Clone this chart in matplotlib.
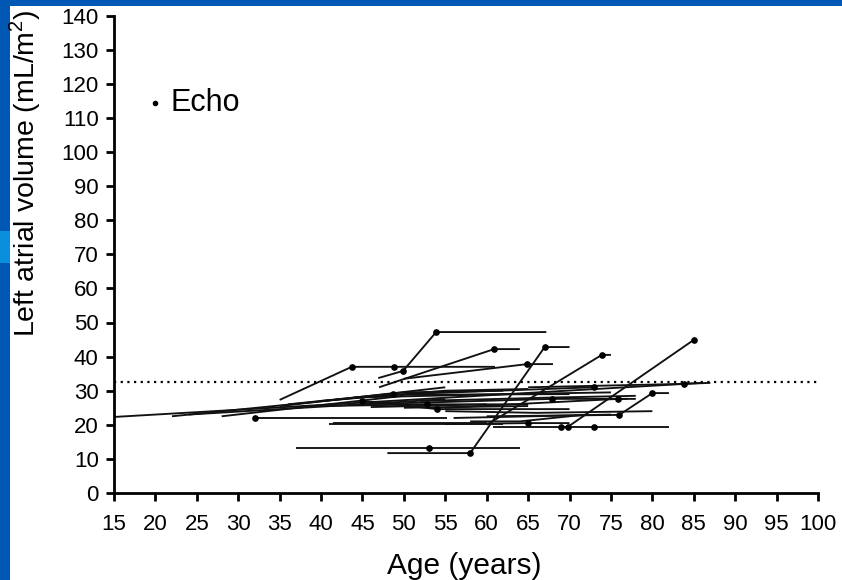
import matplotlib.pyplot as plt
from matplotlib.patches import Rectangle

plt.rcParams['font.family'] = ['Liberation Sans', 'DejaVu Sans']
plt.rcParams['mathtext.fontset'] = 'custom'
plt.rcParams['mathtext.rm'] = 'Liberation Sans'

# each subject: ages and left atrial volumes along its track
seg_ages = [
    [15, 86],
    [22, 48.7],
    [24, 55],
    [28, 50],
    [32, 55.2],
    [35, 43.7, 48.8, 61],
    [46.9, 49.9, 53.9, 67.2],
    [47, 60.9, 64],
    [50, 64.9, 68],
    [48, 58, 67, 70],
    [37, 64],
    [60, 73.9, 75],
    [69.8, 85],
    [60.8, 82],
    [41, 62],
    [41.5, 60],
    [55, 65, 70],
    [60, 76, 80, 82],
    [50, 72.9, 73],
    [55, 75.9, 77],
    [45, 67.9, 78],
    [65, 83.8, 87],
    [45, 54, 70],
    [40, 52.8, 65],
    [48.7, 70],
    [55, 66, 80],
    [46, 60],
    [50, 65],
    [36, 50, 62],
    [40, 55, 65],
    [35, 55],
    [56, 75],
    [58, 64, 72],
    [44, 62, 75],
    [52, 68, 78],
]
seg_vals = [
    [22.3, 32.3],
    [22.5, 29],
    [23, 27.5],
    [22.5, 28.5],
    [22, 22],
    [27.3, 37, 37, 37],
    [33.7, 35.8, 47.2, 47.2],
    [31, 42.2, 42.2],
    [33.5, 37.8, 37.8],
    [11.7, 11.7, 42.8, 42.8],
    [13.2, 13.2],
    [20, 40.5, 40.5],
    [19.4, 44.9],
    [19.4, 19.4],
    [20.3, 20.3],
    [20.6, 20.6],
    [20.2, 20.5, 20.5],
    [22.5, 22.9, 29.3, 29.3],
    [29, 31, 31],
    [25, 27.6, 27.6],
    [26, 27.6, 27.6],
    [31, 32, 32.3],
    [27, 24.6, 24.6],
    [25.5, 26, 26],
    [28.8, 29],
    [24, 23.5, 24],
    [25.2, 26],
    [25, 25.5],
    [26, 29.5, 30],
    [27, 30, 30.5],
    [25.5, 31],
    [22, 23],
    [21, 21, 23],
    [28, 29, 29.5],
    [27, 28, 28.5],
]

dot_ages = [48.7, 32, 43.7, 48.8, 49.9, 53.9, 60.9, 64.9, 58, 67, 53, 73.9,
            69.8, 85, 69, 73, 65, 76, 80, 72.9, 75.9, 67.9, 83.8, 45, 54, 52.8]
dot_vals = [29, 22, 37, 37, 35.8, 47.2, 42.2, 37.8, 11.7, 42.8, 13.2, 40.5,
            19.4, 44.9, 19.4, 19.4, 20.5, 22.9, 29.3, 31, 27.6, 27.6, 32, 27, 24.6, 26]

ref_level = 32.6
x_ticks = list(range(15, 101, 5))
y_ticks = list(range(0, 141, 10))

fig = plt.figure(figsize=(8.42, 5.80), dpi=100)
fig.patch.set_facecolor('#0058b4')
# slide frame: white page, lighter band on the left strip
fig.patches.append(Rectangle((10 / 842, 0), 1, 1 - 6 / 580, transform=fig.transFigure,
                             facecolor='white', edgecolor='none', zorder=-10))
fig.patches.append(Rectangle((0, 1 - 263 / 580), 10 / 842, 32 / 580, transform=fig.transFigure,
                             facecolor='#0a8fdc', edgecolor='none', zorder=-10))

ax = fig.add_axes([114 / 842, 87 / 580, 704 / 842, 477.4 / 580])
ax.set_facecolor('none')

for xs, ys in zip(seg_ages, seg_vals):
    ax.plot(xs, ys, color='#111111', lw=1.35, solid_capstyle='butt', zorder=2)
ax.plot(dot_ages, dot_vals, 'o', color='black', ms=3.8, zorder=3)

ax.axhline(ref_level, color='black', lw=1.6, ls=(0, (1, 2)), zorder=2)

ax.set_xlim(15, 100)
ax.set_ylim(0, 140)
ax.set_xticks(x_ticks)
ax.set_yticks(y_ticks)
ax.tick_params(direction='out', length=6, width=2, labelsize=16, colors='black')
ax.tick_params(axis='x', pad=9)
ax.tick_params(axis='y', pad=5)
for side in ['top', 'right']:
    ax.spines[side].set_visible(False)
for side in ['left', 'bottom']:
    ax.spines[side].set_linewidth(2)

fig.text(464 / 842, 1 - 566 / 580, 'Age (years)', ha='center', va='center', fontsize=21.5)
fig.text(25 / 842, 1 - 173 / 580, 'Left atrial volume (mL/m$^2$)', rotation=90,
         ha='center', va='center', fontsize=20.5)

ax.plot([20], [114.5], 'o', color='black', ms=3, clip_on=False)
ax.text(21.8, 114.5, 'Echo', fontsize=22, va='center', ha='left')

fig.savefig('out.png', dpi=100, facecolor=fig.get_facecolor())
